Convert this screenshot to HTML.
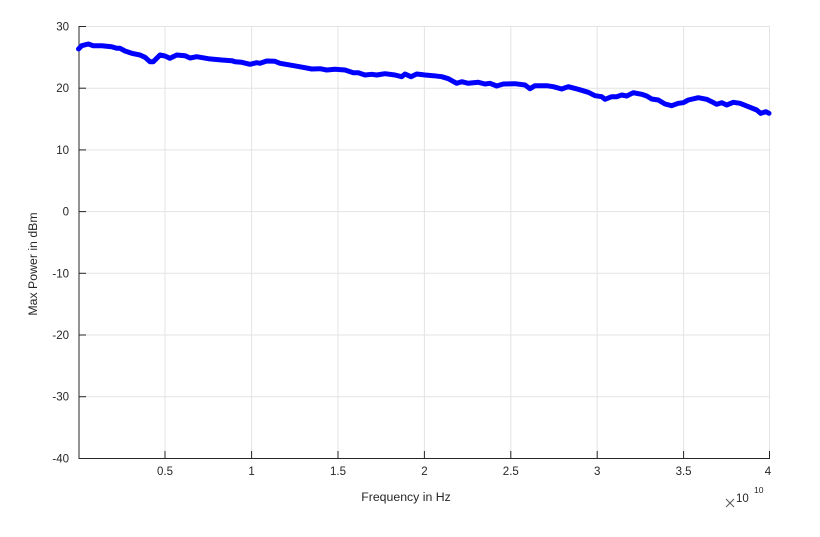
<!DOCTYPE html>
<html><head><meta charset="utf-8"><style>
html,body{margin:0;padding:0;background:#fff;}
svg{display:block;}
text{font-family:"Liberation Sans",Arial,sans-serif;fill:#262626;}
</style></head><body>
<svg width="820" height="537" viewBox="0 0 820 537" xmlns="http://www.w3.org/2000/svg">
<rect width="820" height="537" fill="#fff"/>
<g stroke="#e3e3e3" stroke-width="1">
<line x1="165" y1="26" x2="165" y2="458"/>
<line x1="251.6" y1="26" x2="251.6" y2="458"/>
<line x1="338" y1="26" x2="338" y2="458"/>
<line x1="424.4" y1="26" x2="424.4" y2="458"/>
<line x1="510.8" y1="26" x2="510.8" y2="458"/>
<line x1="597.2" y1="26" x2="597.2" y2="458"/>
<line x1="683.6" y1="26" x2="683.6" y2="458"/>
<line x1="769.5" y1="26" x2="769.5" y2="458"/>
<line x1="79" y1="26.5" x2="770" y2="26.5"/>
<line x1="79" y1="88.2" x2="770" y2="88.2"/>
<line x1="79" y1="149.9" x2="770" y2="149.9"/>
<line x1="79" y1="211.6" x2="770" y2="211.6"/>
<line x1="79" y1="273.3" x2="770" y2="273.3"/>
<line x1="79" y1="335" x2="770" y2="335"/>
<line x1="79" y1="396.7" x2="770" y2="396.7"/>
</g>
<g stroke="#262626" stroke-width="1">
<line x1="79" y1="458.5" x2="770" y2="458.5"/>
<line x1="79" y1="26" x2="79" y2="459"/>
<line x1="79" y1="26.5" x2="86" y2="26.5"/>
<line x1="79" y1="88.2" x2="86" y2="88.2"/>
<line x1="79" y1="149.9" x2="86" y2="149.9"/>
<line x1="79" y1="211.6" x2="86" y2="211.6"/>
<line x1="79" y1="273.3" x2="86" y2="273.3"/>
<line x1="79" y1="335" x2="86" y2="335"/>
<line x1="79" y1="396.7" x2="86" y2="396.7"/>
<line x1="165" y1="451" x2="165" y2="458"/>
<line x1="251.6" y1="451" x2="251.6" y2="458"/>
<line x1="338" y1="451" x2="338" y2="458"/>
<line x1="424.4" y1="451" x2="424.4" y2="458"/>
<line x1="510.8" y1="451" x2="510.8" y2="458"/>
<line x1="597.2" y1="451" x2="597.2" y2="458"/>
<line x1="683.6" y1="451" x2="683.6" y2="458"/>
<line x1="769.5" y1="451" x2="769.5" y2="458"/>
</g>
<g font-size="11.5" text-anchor="end">
<text x="69" y="30.5">30</text>
<text x="69" y="92.2">20</text>
<text x="69" y="153.9">10</text>
<text x="69" y="215.6">0</text>
<text x="69" y="277.3">-10</text>
<text x="69" y="339">-20</text>
<text x="69" y="400.7">-30</text>
<text x="69" y="462.5">-40</text>
</g>
<g font-size="11.5" text-anchor="middle">
<text x="165" y="475">0.5</text>
<text x="251.6" y="475">1</text>
<text x="338" y="475">1.5</text>
<text x="424.4" y="475">2</text>
<text x="510.8" y="475">2.5</text>
<text x="597.2" y="475">3</text>
<text x="683.6" y="475">3.5</text>
<text x="768" y="475">4</text>
</g>
<text x="406" y="501" font-size="12.3" text-anchor="middle">Frequency in Hz</text>
<text transform="translate(37,264) rotate(-90)" font-size="12.3" text-anchor="middle">Max Power in dBm</text>
<g stroke="#555" stroke-width="1">
<line x1="726" y1="499" x2="734" y2="507"/>
<line x1="734" y1="499" x2="726" y2="507"/>
</g>
<text x="736" y="502" font-size="11.5">10</text>
<text x="754" y="493" font-size="8.5">10</text>
<polyline fill="none" stroke="#0000ff" stroke-width="5" stroke-linejoin="round" stroke-linecap="round" points="
78.5,49 81.7,45.7 88.3,44 93.3,45.7 101.7,45.7 111.7,46.7 116.7,48.3 120,48.3 125,51 131.7,53.3 140,55 145,57.3 150,61.7 153.3,61.7 156.7,58.3 160,55 165,56 170,58.3 176.7,55 185,55.7 190,58 196.7,56.7 208.3,58.7 221.7,60 231.7,60.7 235,61.7 241.7,62.3 250,64.3 256.7,62.7 260,63.3 266.7,61 275,61.3 280,63.3 291.7,65.3 305,67.7 311.7,69 320,68.7 326.7,70 335,69.3 345,70 353.3,72.7 358.3,72.7 365,75 371.7,74.3 376.7,75 385,73.7 395,75 401.7,76.7 405,74 411,76.7 416.7,74 425,75 433.3,75.7 441.7,76.7 448.3,78.7 456.7,83.3 461.7,81.7 468.3,83.3 478.3,82.3 485,84 490,83.3 496.7,86 503.3,84 515,83.7 525,85 530,88.7 535,85.7 546.7,85.7 553.3,86.7 561.7,89 568.3,86.7 578.3,89.3 588.3,92.3 595,95.7 601.7,96.7 605,99.3 611.7,96.7 616.7,96.7 621.7,95 626.7,96 633.3,92.7 641.7,94.3 646.7,96 651.7,99 658.3,100 665,104 671.7,105.7 678.3,103.3 683.3,102.7 688.3,100 698.3,97.7 706.7,99.3 711.7,101.7 716.7,104.3 721.7,102.7 726.7,105 733.3,102.3 740,103.3 750,107.3 756.7,110 760.7,113.3 766,111.7 769,113.3"/>
</svg>
</body></html>
